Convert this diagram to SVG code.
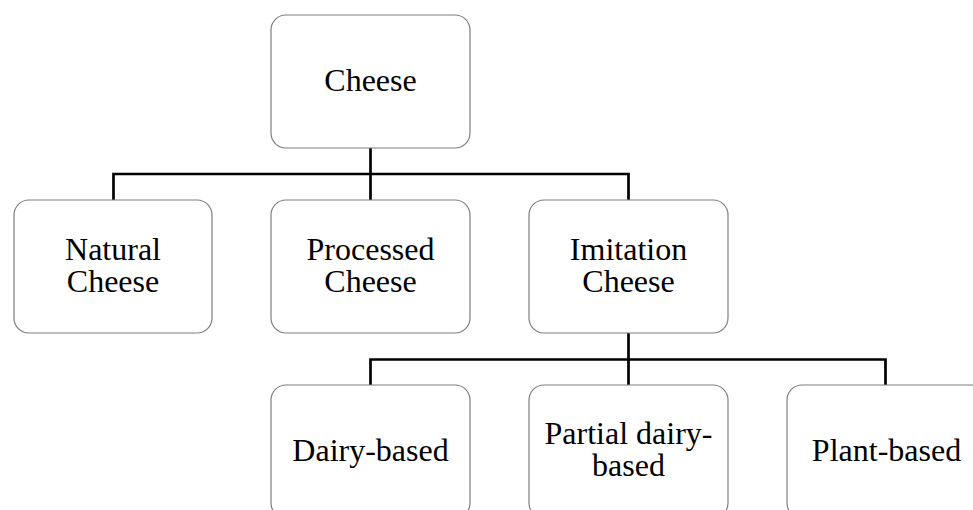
<svg xmlns="http://www.w3.org/2000/svg" width="973" height="510" viewBox="0 0 973 510">
<style>
.box{fill:#fff;stroke:#7f7f7f;stroke-width:1.2}
.lbl{font-family:"Liberation Serif","Times New Roman",serif;font-size:32px;fill:#000;text-anchor:middle}
.con{fill:none;stroke:#000;stroke-width:2.7}
</style>
<rect width="973" height="510" fill="#fff"/>
<g id="connectors">
<path class="con" d="M370.5 148V174M113.5 200V174H628.5V200M370.5 174V200"/>
<path class="con" d="M628.5 333V359.5M370.5 385V359.5H885.5V385M628.5 359.5V385"/>
</g>
<g id="cheese"><rect class="box" x="271" y="15" width="199" height="133" rx="15"/><text class="lbl" x="370.5" y="91">Cheese</text></g>
<g id="natural"><rect class="box" x="14" y="200" width="198" height="133" rx="15"/><text class="lbl" x="113" y="260">Natural</text><text class="lbl" x="113" y="292">Cheese</text></g>
<g id="processed"><rect class="box" x="271" y="200" width="199" height="133" rx="15"/><text class="lbl" x="370.5" y="260">Processed</text><text class="lbl" x="370.5" y="292">Cheese</text></g>
<g id="imitation"><rect class="box" x="529" y="200" width="199" height="133" rx="15"/><text class="lbl" x="628.5" y="260">Imitation</text><text class="lbl" x="628.5" y="292">Cheese</text></g>
<g id="dairy"><rect class="box" x="271" y="385" width="199" height="133" rx="15"/><text class="lbl" x="370.5" y="461">Dairy-based</text></g>
<g id="partial"><rect class="box" x="529" y="385" width="199" height="133" rx="15"/><text class="lbl" x="628.5" y="444">Partial dairy-</text><text class="lbl" x="628.5" y="476">based</text></g>
<g id="plant"><rect class="box" x="787" y="385" width="199" height="133" rx="15"/><text class="lbl" x="886.5" y="461">Plant-based</text></g>
</svg>
